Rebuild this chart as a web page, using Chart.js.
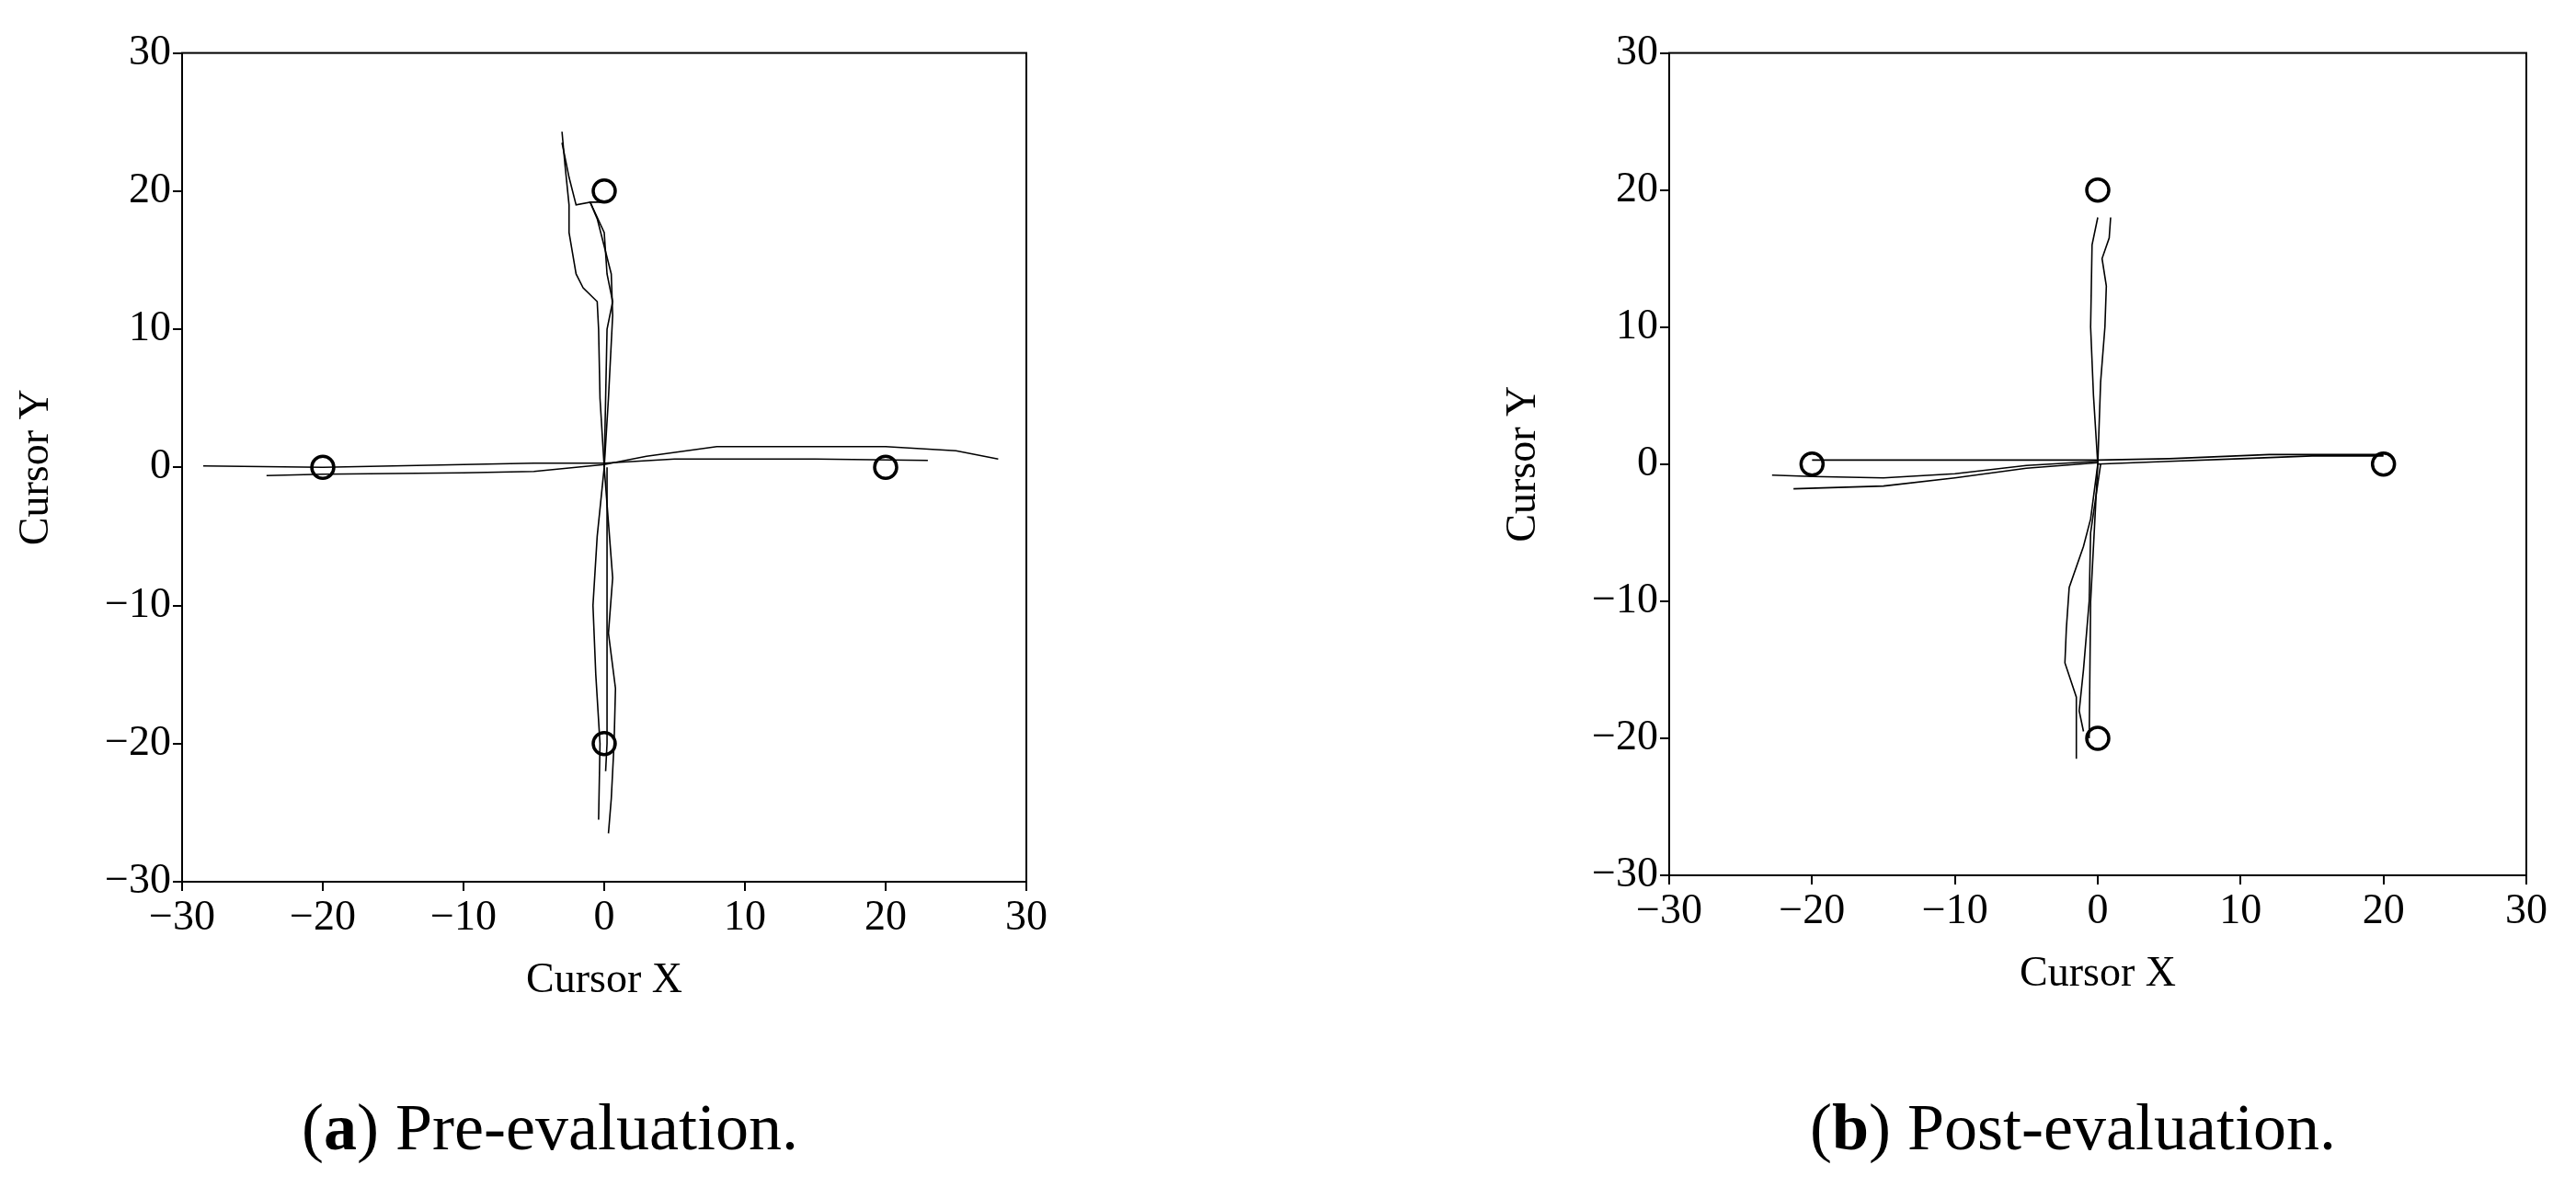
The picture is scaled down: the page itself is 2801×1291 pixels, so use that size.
<!DOCTYPE html>
<html><head><meta charset="utf-8">
<script src="https://cdn.jsdelivr.net/npm/chart.js@4"></script>
<style>
body{margin:0;background:#fff;width:2801px;height:1291px;position:relative;overflow:hidden;font-family:"Liberation Serif",serif;}
.cw{position:absolute;}
.cap{position:absolute;font-family:"Liberation Serif",serif;font-size:72px;color:#000;transform:translateX(-50%);white-space:nowrap;}
</style></head><body>
<div class="cw" style="left:12px;top:28px;width:1134px;height:1071px"><canvas id="ca"></canvas></div>
<div class="cw" style="left:1629px;top:28px;width:1148px;height:1064px"><canvas id="cb"></canvas></div>
<div class="cap" style="left:598px;top:1185px">(<b>a</b>) Pre-evaluation.</div>
<div class="cap" style="left:2254px;top:1185px">(<b>b</b>) Post-evaluation.</div>
<script>
const tickValues=[-30,-20,-10,0,10,20,30];
const targets=[[-20,0],[20,0],[0,20],[0,-20]];
// Pre-evaluation traces
const preLeft1=[[0.3,0.3],[-5,0.3],[-10,0.2],[-20,0],[-28.5,0.1]];
const preLeft2=[[0,0.2],[-5,-0.3],[-10,-0.4],[-20,-0.5],[-24,-0.6]];
const preRight1=[[0,0.2],[3,0.8],[8,1.5],[15,1.5],[20,1.5],[25,1.2],[28,0.6]];
const preRight2=[[0,0.3],[5,0.6],[15,0.6],[23,0.5]];
const preUp1=[[0,0],[-0.3,5],[-0.4,10],[-0.5,12],[-1.5,13],[-2,14],[-2.5,17],[-2.5,19],[-2.8,22],[-3,24.3]];
const preUp2=[[0,0],[0.3,5],[0.5,9],[0.6,11],[0.5,14],[-0.5,18],[-1,19.2],[-2,19],[-2.5,21],[-3,23.5]];
const preUp3=[[0,0],[0.2,10],[0.6,12],[0.2,14],[0,17],[-1,19.2],[0,19.2]];
const preDown1=[[0,0],[-0.5,-5],[-0.8,-10],[-0.6,-15],[-0.3,-20],[-0.4,-25.5]];
const preDown2=[[0,0],[0.3,-4],[0.6,-8],[0.3,-12],[0.8,-16],[0.7,-20],[0.5,-24],[0.3,-26.5]];
const preDown3=[[0.2,0],[0.2,-10],[0.2,-20],[0.1,-22]];
// Post-evaluation traces
const postLeft1=[[0,0.3],[-10,0.3],[-20,0.3]];
const postLeft2=[[0,0.2],[-5,-0.1],[-10,-0.7],[-15,-1.0],[-20,-0.9],[-22.8,-0.8]];
const postLeft3=[[0,0.1],[-5,-0.3],[-10,-1.0],[-15,-1.6],[-21.3,-1.8]];
const postRight1=[[0,0],[5,0.2],[10,0.4],[15,0.6],[20,0.6]];
const postRight2=[[0,0.3],[5,0.4],[12,0.7],[20,0.7]];
const postUp1=[[0,0],[-0.3,5],[-0.5,10],[-0.4,16],[0,18]];
const postUp2=[[0,0],[0.2,6],[0.5,10],[0.6,13],[0.3,15],[0.8,16.5],[0.9,18]];
const postDown1=[[0,0],[-0.5,-4],[-1,-6],[-2,-9],[-2.2,-12],[-2.3,-14.5],[-1.5,-17],[-1.5,-20],[-1.5,-21.5]];
const postDown2=[[0.2,0],[-0.5,-5],[-0.6,-10],[-1,-15],[-1.3,-18],[-1,-19.5]];
const postDown3=[[0,0],[-0.5,-10],[-0.6,-20]];

const pts=a=>a.map(p=>({x:p[0],y:p[1]}));
const font={family:"Liberation Serif",size:46};
const boxPlugin={id:'box',afterDraw(c){const a=c.chartArea,x=c.ctx;x.save();x.strokeStyle='#000';x.lineWidth=2;x.strokeRect(a.left,a.top,a.right-a.left,a.bottom-a.top);x.restore();}};
function axis(title,isY){return{type:'linear',min:-30,max:30,
 afterBuildTicks(s){s.ticks=tickValues.map(v=>({value:v}));},
 afterFit(s){if(isY)s.width=186;else s.height=140;},
 grid:{drawOnChartArea:false,drawTicks:true,tickLength:10,color:'#000',lineWidth:2},
 border:{color:'#000',width:2},
 ticks:{color:'#000',font,padding:2,callback:v=>String(v).replace('-','\u2212')},
 title:{display:true,text:title,color:'#000',font,padding:isY?{top:0,bottom:4}:{top:2}}};}
function make(id,traces){
 const ds=traces.map(t=>({type:'line',data:pts(t),borderColor:'#000',borderWidth:1.6,pointRadius:0,fill:false,tension:0}));
 ds.push({type:'scatter',data:pts(targets),pointRadius:12,pointBorderWidth:3.5,pointBorderColor:'#000',pointBackgroundColor:'#fff'});
 new Chart(document.getElementById(id),{data:{datasets:ds},plugins:[boxPlugin],
  options:{responsive:true,maintainAspectRatio:false,animation:false,
   layout:{padding:{top:22,right:30}},
   plugins:{legend:{display:false},tooltip:{enabled:false}},
   scales:{x:axis('Cursor X',false),y:axis('Cursor Y',true)}}});
}
make('ca',[preLeft1,preLeft2,preRight1,preRight2,preUp1,preUp2,preUp3,preDown1,preDown2,preDown3]);
make('cb',[postLeft1,postLeft2,postLeft3,postRight1,postRight2,postUp1,postUp2,postDown1,postDown2,postDown3]);
</script></body></html>
